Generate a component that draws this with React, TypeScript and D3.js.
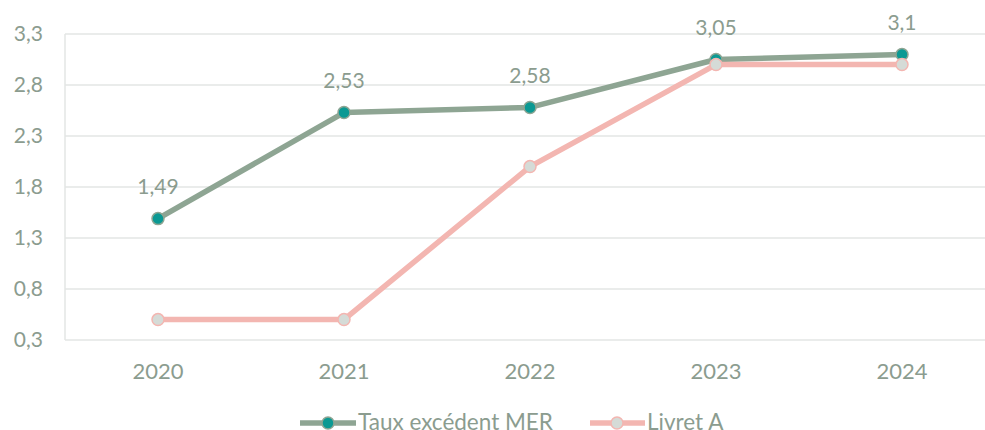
import React from "react";
import * as d3 from "d3";

const years = ["2020", "2021", "2022", "2023", "2024"];
const tauxMER = [1.49, 2.53, 2.58, 3.05, 3.1];
const livretA = [0.5, 0.5, 2, 3, 3];
const tauxLabels = ["1,49", "2,53", "2,58", "3,05", "3,1"];
const yTicks = [0.3, 0.8, 1.3, 1.8, 2.3, 2.8, 3.3];
const seriesNames = ["Taux excédent MER", "Livret A"];

const W = 985;
const H = 430;
const FONT = "Lato, 'Open Sans', sans-serif";
const TEXT = "#8b9c8f";
const GRID = "#e3e6e4";
const GREEN = "#8ea593";
const TEAL = "#0b9993";
const PINK = "#f3b6b1";
const GREYFILL = "#d5dbd7";

export default function App() {
  const x = d3.scaleBand().domain(years).range([65, 995]);
  const y = d3.scaleLinear().domain([0.3, 3.3]).range([340, 34]);
  const cx = (d: string) => (x(d) as number) + x.bandwidth() / 2;
  const line = d3
    .line<number>()
    .x((_, i) => cx(years[i]))
    .y((v) => y(v));
  const fmt = (v: number) => String(v).replace(".", ",");

  return (
    <svg
      width={W}
      height={H}
      style={{ position: "absolute", left: 0, top: 0, display: "block" }}
      fontFamily={FONT}
    >
      <rect width={W} height={H} fill="#fff" />
      {yTicks.map((t) => (
        <g key={t}>
          <line x1={65} x2={995} y1={y(t)} y2={y(t)} stroke={GRID} strokeWidth={1.5} />
          <text x={43} y={y(t)} dy="0.35em" textAnchor="end" fontSize={21} fill={TEXT}>
            {fmt(t)}
          </text>
        </g>
      ))}
      <line x1={65} x2={65} y1={y(3.3)} y2={y(0.3)} stroke={GRID} strokeWidth={1.5} />
      {years.map((yr) => (
        <text key={yr} x={cx(yr)} y={371} dy="0.35em" textAnchor="middle" fontSize={22} fill={TEXT}>
          {yr}
        </text>
      ))}
      <path d={line(tauxMER) as string} fill="none" stroke={GREEN} strokeWidth={5.5} strokeLinejoin="round" />
      {tauxMER.map((v, i) => (
        <circle key={i} cx={cx(years[i])} cy={y(v)} r={6} fill={TEAL} stroke={GREEN} strokeWidth={1.5} />
      ))}
      <path d={line(livretA) as string} fill="none" stroke={PINK} strokeWidth={5.5} strokeLinejoin="round" />
      {livretA.map((v, i) => (
        <circle key={i} cx={cx(years[i])} cy={y(v)} r={6} fill={GREYFILL} stroke={PINK} strokeWidth={1.5} />
      ))}
      {tauxMER.map((v, i) => (
        <text key={i} x={cx(years[i])} y={y(v) - 32} dy="0.35em" textAnchor="middle" fontSize={21} fill={TEXT}>
          {tauxLabels[i]}
        </text>
      ))}
      <g>
        <line x1={300} x2={356} y1={423} y2={423} stroke={GREEN} strokeWidth={5.5} />
        <circle cx={328} cy={423} r={6} fill={TEAL} stroke={GREEN} strokeWidth={1.5} />
        <text x={358} y={422} dy="0.35em" fontSize={22.5} fill={TEXT}>
          {seriesNames[0]}
        </text>
        <line x1={590} x2={645} y1={423} y2={423} stroke={PINK} strokeWidth={5.5} />
        <circle cx={617} cy={423} r={6} fill={GREYFILL} stroke={PINK} strokeWidth={1.5} />
        <text x={647} y={422} dy="0.35em" fontSize={22.5} fill={TEXT}>
          {seriesNames[1]}
        </text>
      </g>
    </svg>
  );
}
